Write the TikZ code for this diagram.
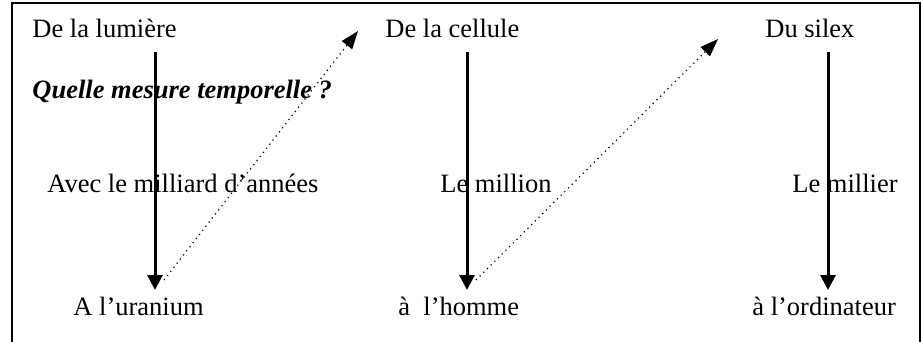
\documentclass[tikz,border=0pt]{standalone}
\usepackage{fontspec}
\setmainfont{Liberation Serif}
\usetikzlibrary{arrows.meta}

\begin{document}
\begin{tikzpicture}[
    x=0.5pt, y=-0.5pt,
    lbl/.style={anchor=base west, inner sep=0pt, font=\fontsize{13.25}{16}\selectfont},
    ask/.style={lbl, font=\fontsize{13.25}{16}\selectfont\bfseries\itshape},
    era/.style={-{Triangle[length=7.5pt,width=7.5pt]}, line width=1.5pt},
    link/.style={-{Triangle[length=9pt,width=6.5pt]}, dotted, line width=0.6pt},
    frame/.style={line width=0.9pt}
]
    \useasboundingbox (0,0) rectangle (921,342);
    \draw[frame] (12,342) -- (12,3) -- (920,3) -- (920,342);

    % origins
    \node[lbl] (lumiere) at (32,38) {De la lumière};
    \node[lbl] (cellule) at (385,38) {De la cellule};
    \node[lbl] (silex) at (765,38) {Du silex};
    \node[ask] (question) at (32,99) {Quelle mesure temporelle ?};

    % time scales
    \node[lbl] (milliard) at (47,192) {Avec le milliard d’années};
    \node[lbl] (million) at (440,192) {Le million};
    \node[lbl] (millier) at (792,192) {Le millier};

    % ends
    \node[lbl] (uranium) at (73,315) {A l’uranium};
    \node[lbl] (homme) at (398,315) {à \ l’homme};
    \node[lbl] (ordi) at (752,315) {à l’ordinateur};

    \coordinate (top1) at (155,52);
    \coordinate (bot1) at (155,290);
    \coordinate (top2) at (467,52);
    \coordinate (bot2) at (467,290);
    \coordinate (top3) at (828,52);
    \coordinate (bot3) at (828,290);
    \coordinate (from1) at (164,280);
    \coordinate (to1) at (358,31);
    \coordinate (from2) at (476,280);
    \coordinate (to2) at (718,39);

    \draw[era] (top1) -- (bot1);
    \draw[era] (top2) -- (bot2);
    \draw[era] (top3) -- (bot3);
    \draw[link] (from1) -- (to1);
    \draw[link] (from2) -- (to2);
\end{tikzpicture}
\end{document}
